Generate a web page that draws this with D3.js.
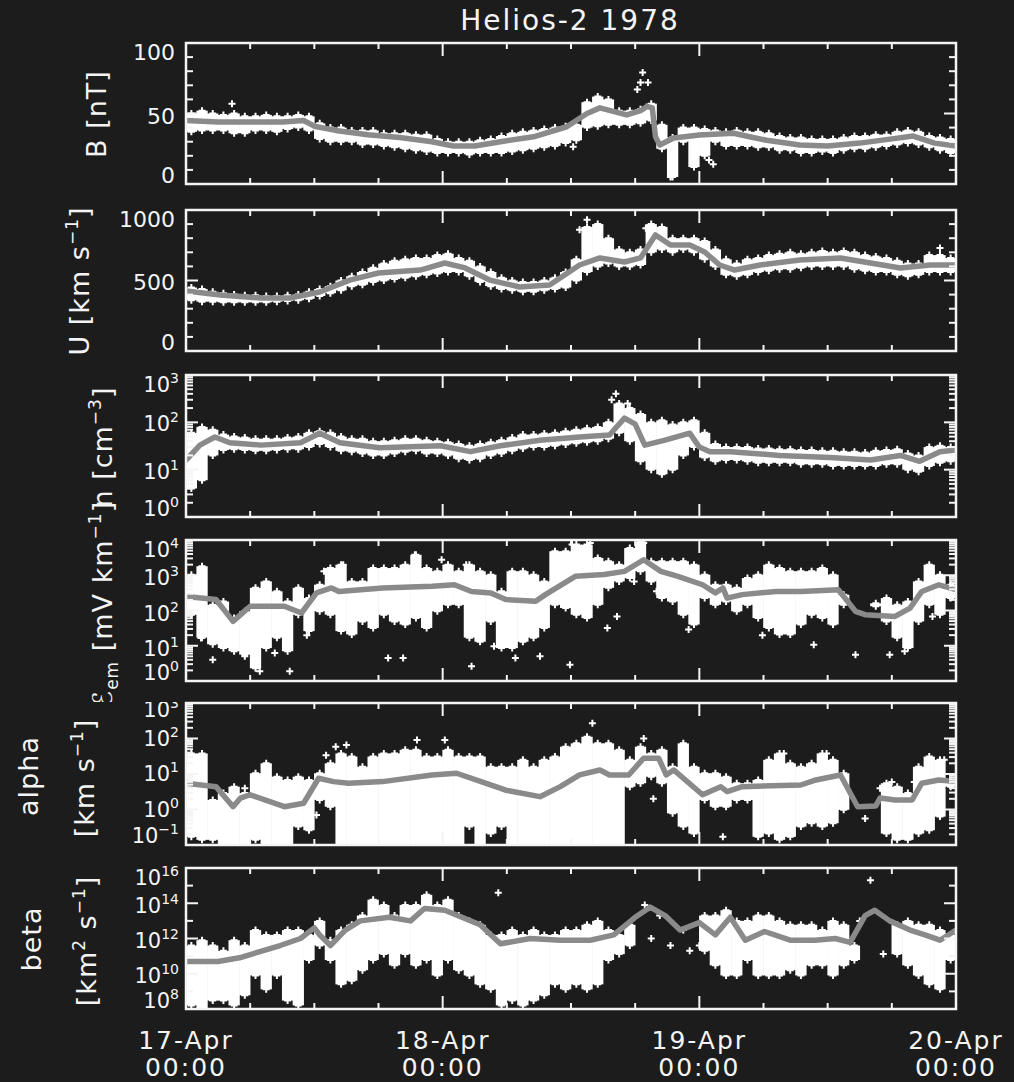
<!DOCTYPE html>
<html><head><meta charset="utf-8">
<script src="https://cdn.jsdelivr.net/npm/d3@7"></script>
<style>body{margin:0;background:#1c1c1c;} svg{display:block;} text{font-family:"DejaVu Sans",sans-serif;fill:#f4f4f4;}</style>
</head><body><svg id="c" width="1014" height="1082"></svg>
<script>
// ---------------- DATA (time in hours since 17-Apr 00:00) ----------------
const title = "Helios-2 1978";
const dayTicks = [0, 24, 48, 72];
const dayLabels = ["17-Apr", "18-Apr", "19-Apr", "20-Apr"];
const timeLabels = ["00:00", "00:00", "00:00", "00:00"];

// B [nT]
const bLine = [[0,45],[3,44],[6,44],[9,44],[11,45],[12,41],[14,38],[17,35],[20,33],[23,30],[25,27],[27,27],[29.4,30],[32.5,33.5],[35.6,40.6],[37.5,50],[38.7,54],[41.2,49],[42.5,52],[43.1,55],[43.6,54],[43.9,33.5],[44.3,27.7],[45.6,32.6],[48,34.8],[51.2,36],[52.7,33.5],[54.3,31],[57.4,27.7],[60,27],[63,29],[66,32],[68,34],[70,29],[72,27]];
const bHi = [50,52,50,49,50,48,48,49,48,48,49,48,43,40,40,38,38,38,36,36,36,35,35,32,30,30,30,31,32,34,36,37,38,39,40,41,42,58,62,60,52,52,53,57,42,33,40,40,39,38,37,38,37,37,36,34,33,33,32,32,32,33,34,34,35,35,37,38,37,34,33,32];
const bLo = [37,38,38,38,36,36,38,38,37,39,40,38,32,30,30,30,28,28,27,26,25,24,23,22,22,22,21,22,22,22,23,24,25,26,27,29,31,40,41,42,42,42,43,45,25,5,30,12,20,30,27,27,27,26,26,24,24,22,22,23,22,24,25,25,26,27,28,29,28,26,24,22];
const bOut = [[4.3,57],[42.2,67],[42.5,72],[42.7,79],[43.2,72],[45.3,5],[48.9,17],[49.3,14],[36.2,26.5]];
const bTicks = [100, 50, 0];

// U [km/s]
const uLine = [[0,425],[3.2,397],[7,376],[9.7,376],[12.5,418],[15.3,503],[18,553],[21.9,574],[24.2,624],[26.1,589],[28.4,503],[31.2,454],[34,468],[36.8,610],[38.7,660],[41,631],[42.5,660],[43.9,823],[45.3,752],[47.1,752],[48.5,702],[49.9,610],[51.3,574],[53.7,610],[57.4,645],[61.2,660],[64,624],[66.8,589],[69.6,610],[72,610]];
const uHi = [450,440,420,410,400,395,395,390,390,395,400,420,440,460,500,530,560,590,620,640,650,660,660,680,690,660,640,600,560,520,500,490,490,500,520,560,650,880,900,800,720,700,720,900,880,800,800,800,780,720,650,620,650,660,680,690,700,690,700,710,700,710,700,680,670,660,640,620,620,680,680,660];
const uLo = [360,350,350,345,345,345,345,345,350,355,360,370,390,410,430,460,470,490,500,510,520,530,540,550,560,560,530,490,460,440,430,420,420,430,440,450,500,560,600,620,600,600,610,700,720,700,720,700,650,600,540,530,540,560,570,580,580,590,600,600,600,600,580,570,560,560,540,530,540,560,560,560];
const uOut = [[37.5,930],[36.8,860],[43,870],[70.5,730]];
const uTicks = [1000, 500, 0];

// n [cm^-3]
const nLine = [[0,16],[1.3,33],[2.7,49],[4.1,37],[7,33],[10.7,37],[12.5,59],[14.4,37],[18.1,29],[23.8,32],[26.6,24],[29.4,32],[33.1,42],[36.8,49],[39.6,54],[41,123],[42,92],[42.9,33],[44.8,42],[47.1,59],[48,30],[49,24],[50.9,24],[55.5,20],[60.2,18],[64,16],[66.8,20],[68.6,15],[70.5,24],[72,26]];
const nHi = [60,80,70,55,50,48,45,45,45,48,50,60,65,60,50,45,45,40,40,42,45,45,42,40,38,35,32,35,38,42,48,55,55,58,60,65,70,75,80,100,250,200,150,100,110,90,100,110,60,35,30,30,30,28,28,27,27,26,26,25,25,24,24,23,25,26,27,22,20,30,32,30];
const nLo = [4,6,20,26,27,26,25,25,26,27,27,30,35,30,25,24,22,20,20,22,24,25,22,22,20,17,16,17,20,22,25,28,30,30,32,34,36,38,40,45,60,40,15,10,8,10,20,30,18,15,16,16,15,14,14,14,14,13,13,13,12,12,12,12,12,13,13,10,9,12,14,15];
const nOut = [[40.2,400],[39.8,300],[41.3,250],[40.6,180]];
const nTicks = [3, 2, 1, 0];

// E_em [mV/km]
const eLine = [[0,250],[2.8,205],[4.4,49],[6,132],[9.2,132],[10.8,85],[12.2,316],[13.6,437],[14.3,347],[18.4,437],[23,490],[25.1,537],[26.7,347],[28.5,316],[29.9,204],[32.7,182],[33.6,282],[36.4,933],[39.1,1047],[41,1290],[42.8,2750],[44.4,1290],[46,933],[48.3,537],[49.5,316],[50.2,437],[50.6,224],[52,282],[55.2,347],[57.5,347],[61,389],[62.6,95],[63.5,76],[66.3,68],[67.7,117],[68.8,347],[70.4,537],[72,389]];
const eHi = [1040,1800,145,180,61,95,440,670,350,180,440,225,540,1600,2000,670,670,1600,1600,1600,2000,3800,1600,1300,2000,1300,2000,1300,1040,350,1300,1300,1040,670,4800,4800,7400,7400,3100,2500,2000,5900,9100,2500,2500,2500,2500,2000,1040,540,540,440,830,1040,2000,1600,1300,1300,1300,1600,1040,280,null,null,160,225,145,180,670,2000,1040,540];
const eLo = [76,17,11,8.6,7,5.6,2.3,8.6,17,7,76,26,95,76,26,21,49,32,76,49,40,61,32,95,145,145,17,13,49,8.6,8.6,13,17,32,145,118,76,61,145,440,670,830,1300,670,225,180,76,40,225,145,180,95,145,61,32,21,21,40,76,61,40,145,null,null,132,49,17,8.6,49,145,76,225];
const eOut = [[1.4,16.6],[2.5,4],[5.5,5],[6.9,1.9],[9.7,1.9],[8.3,6.2],[11.3,20],[12.9,1290],[13.8,1290],[14.7,2000],[18.9,4.5],[20.3,4.5],[21.4,3800],[23.9,2750],[26.2,2000],[26.7,2.6],[28.8,9.6],[30.8,4.5],[33.1,5],[35.9,2.9],[36.1,7400],[37.8,8200],[39.4,32],[40.3,68],[41.9,670],[44,350],[42.8,8200],[47,29],[53.9,20],[58.7,10.7],[62.6,5.6],[65.8,5.6],[67.2,7],[69.5,2000],[69.8,68]];
const eTicks = [4, 3, 2, 1, 0];

// alpha [km/s]
const aLine = [[0,5.5],[2.8,4.4],[4.4,1.2],[5.1,2.1],[6,2.6],[9.2,1.2],[11,1.5],[12.4,7.6],[13.8,6.1],[15.2,5.5],[18.4,6.1],[23,9.4],[25.3,10.5],[27.6,6.1],[29.9,3.5],[33.1,2.3],[35,4.4],[36.8,9.4],[38.7,13],[39.6,9.4],[41.4,9.4],[42.8,28],[44.2,28],[44.9,9.4],[45.6,13],[48.3,2.6],[50,4.4],[50.6,3.2],[52,4.4],[57.5,4.9],[58.9,6.8],[61.2,9.4],[62.8,1.2],[64.5,1.26],[64.9,2.1],[66.3,1.86],[67.9,1.86],[68.8,5.5],[70.4,6.8],[72,6.1]];
const aHi = [38,38,1.86,2.9,4.4,2.9,10.5,20,8.4,6.8,8.4,6.8,10.5,20,38,31,16,31,38,38,48,48,31,31,48,31,31,31,16,16,16,25,16,25,31,59,73,112,73,73,48,25,59,38,48,16,73,16,10.5,10.5,8.4,5.5,5.5,6.8,25,38,20,16,20,38,25,10.5,null,null,null,5.5,4.4,2.9,16,31,25,6.8];
const aLo = [0.17,0.14,0.14,0.1,0.1,0.1,0.14,0.1,0.1,0.1,0.33,0.26,1.86,1.2,0.1,0.1,0.1,0.1,0.1,0.1,0.1,0.1,0.1,0.1,0.1,0.1,0.33,0.1,0.21,0.33,0.1,0.1,0.1,0.1,0.1,0.1,0.1,0.1,0.1,0.1,0.1,4.4,5.5,8.4,5.5,0.78,0.33,0.21,1.86,1.2,1.2,1.86,1.86,0.17,0.21,0.14,0.17,0.33,0.41,0.33,0.41,0.98,null,null,null,0.21,0.14,0.14,0.21,0.26,0.63,4.4];
const aOut = [[38,270],[21.6,91],[24.2,91],[15,66],[14,59],[13.1,34],[42.8,100],[46.5,73],[43.7,2],[50.2,0.17],[55.9,38],[59.9,38],[63.5,0.56],[64.9,4],[66,6],[68.1,6],[70.9,25],[11,0.7],[12.2,0.7],[11.5,0.33],[7.6,16],[5.5,4]];
const aTicks = [3, 2, 1, 0, -1];

// beta [km^2/s]
const betaLine = [[0,5e10],[3,5e10],[5,8e10],[8.8,4e11],[10.7,1e12],[12,4e12],[12.5,1.6e12],[13.5,4e11],[14.9,3e12],[16.3,1e13],[19,1.6e13],[21,1e13],[22.3,5e13],[24.2,4e13],[27.5,6e12],[29.4,5e11],[32.2,1e12],[35,8e11],[37.8,8e11],[40,1.6e12],[42,1.6e13],[43.4,6e13],[44.8,2e13],[46.2,3e12],[48,8e12],[49.5,1.6e12],[50.9,1.6e13],[52.3,8e11],[54.1,2.5e12],[56.5,8e11],[58.8,8e11],[60.7,1e12],[62.1,6e11],[63.5,2e13],[64.4,4e13],[65.8,1e13],[67.7,3e12],[69.1,1.6e12],[70.5,8e11],[72,3e12]];
const betaHi = [4e11,8e11,4e11,2e11,8e11,4e11,3e12,1.6e12,1.6e12,3e12,3e12,1.6e12,1e13,8e11,3e12,6e12,2e13,1.6e14,8e13,2e13,8e13,8e13,3e14,8e13,1.6e14,2e13,1e13,6e12,1.6e12,1.6e12,3e12,1.6e12,3e12,1.6e12,1.6e12,3e12,3e12,6e12,1e13,3e12,1.6e12,6e12,null,null,null,null,null,null,2e13,2e13,4e13,1e13,1e13,2e13,2e13,1e13,6e12,6e12,6e12,3e12,1e13,6e12,4e11,null,null,null,6e12,1e13,6e12,6e12,3e12,1.6e12];
const betaLo = [1.6e8,1.1e8,3e8,3e8,1.6e8,6e8,8e9,1.3e9,8e9,3e8,1.6e8,6e10,4e11,6e10,2.5e9,4e9,1.6e10,6e10,1.3e11,3e10,1.3e11,3e10,6e10,8e9,6e10,1.6e10,8e9,2.5e9,1.3e9,1.6e8,3e8,1.6e8,3e8,6e8,2.5e9,1.3e9,2.5e9,1.3e9,2.5e9,6e10,1.3e11,4e11,null,null,null,null,null,null,2e11,3e10,8e9,8e9,6e10,8e9,8e9,8e9,1.6e10,8e9,3e10,3e10,8e9,3e10,6e10,null,null,null,1.3e11,3e10,8e9,2.5e9,1.3e9,6e10];
const betaOut = [[29.2,4e14],[42.9,8e13],[44.3,2e13],[45.3,4e11],[47.1,2e11],[48,4e11],[64,2e15],[63,1e13],[65.2,1.3e11],[43.5,1e12],[46.5,3e12]];
const betaTicks = [16, 14, 12, 10, 8];

// ---------------- LAYOUT ----------------
const W = 1014, H = 1082, L = 186, R = 956;
const svg = d3.select('#c');
svg.append('rect').attr('width', W).attr('height', H).attr('fill', '#1c1c1c');
const defs = svg.append('defs');
const x = d3.scaleLinear().domain([0, 72]).range([L, R]);
const bins = d3.range(72);
const FG = '#f4f4f4';

const panels = [
  {top:43, bottom:184, log:false, domain:[0,100], ticks:bTicks, minor:d3.range(0,101,10), line:bLine, hi:bHi, lo:bLo, out:bOut, mid:2},
  {top:210, bottom:351, log:false, domain:[0,1000], ticks:uTicks, minor:d3.range(0,1001,100), line:uLine, hi:uHi, lo:uLo, out:uOut, mid:1},
  {top:375, bottom:517, log:true, domain:[1,1e3], ticks:nTicks, line:nLine, hi:nHi, lo:nLo, out:nOut, mid:1.5},
  {top:540, bottom:681, log:true, domain:[1,1e4], ticks:eTicks, line:eLine, hi:eHi, lo:eLo, out:eOut, mid:2.5},
  {top:703, bottom:845, log:true, domain:[0.1,1e3], ticks:aTicks, line:aLine, hi:aHi, lo:aLo, out:aOut, mid:-0.5, topOff:6, botOff:-10},
  {top:868, bottom:1009, log:true, domain:[1e8,1e16], ticks:betaTicks, decadeMinor:true, line:betaLine, hi:betaHi, lo:betaLo, out:betaOut, mid:2}
];

// clip for the panel-4 / panel-5 seam
defs.append('clipPath').attr('id','above').append('rect').attr('x',0).attr('y',0).attr('width',W).attr('height',702);
defs.append('clipPath').attr('id','below').append('rect').attr('x',0).attr('y',702).attr('width',W).attr('height',H-702);

panels.forEach((p, i) => {
  const y = (p.log ? d3.scaleLog() : d3.scaleLinear()).domain(p.domain).range([p.bottom, p.top]);
  const g = svg.append('g');
  const cid = 'clip' + i;
  defs.append('clipPath').attr('id', cid).append('rect')
    .attr('x', L).attr('y', p.top).attr('width', R - L).attr('height', p.bottom - p.top);
  const plot = g.append('g').attr('clip-path', `url(#${cid})`);

  // scatter envelope (min/max per hour)
  plot.selectAll('rect.env').data(bins.filter(b => p.hi[b] != null)).join('rect')
    .attr('x', b => x(b) - 0.3).attr('width', b => x(b + 1) - x(b) + 0.6)
    .attr('y', b => y(p.hi[b])).attr('height', b => Math.max(1, y(p.lo[b]) - y(p.hi[b])))
    .attr('fill', '#ffffff');

  // plus markers
  let d = '';
  const addPlus = (t, v) => { const px = x(t), py = y(v); d += `M${px - 3.5},${py}h7M${px},${py - 3.5}v7`; };
  bins.forEach(b => { if (p.hi[b] == null) return; addPlus(b + 0.5, p.hi[b]); addPlus(b + 0.5, p.lo[b]); });
  p.out.forEach(([t, v]) => addPlus(t, v));
  plot.append('path').attr('d', d).attr('stroke', '#ffffff').attr('stroke-width', 2).attr('fill', 'none');

  // smoothed line
  plot.append('path').datum(p.line)
    .attr('d', d3.line().x(q => x(q[0])).y(q => y(q[1])))
    .attr('fill', 'none').attr('stroke', '#8a8a8a').attr('stroke-width', 5.5)
    .attr('stroke-linejoin', 'round').attr('stroke-linecap', 'round');

  // frame
  g.append('rect').attr('x', L).attr('y', p.top).attr('width', R - L).attr('height', p.bottom - p.top)
    .attr('fill', 'none').attr('stroke', FG).attr('stroke-width', 2.5);

  // x ticks (top and bottom, inward)
  const tk = g.append('g').attr('stroke', FG).attr('stroke-width', 2);
  d3.range(0, 73, 6).forEach(t => {
    const len = (t % 24 === 0) ? 13 : 6;
    tk.append('line').attr('x1', x(t)).attr('x2', x(t)).attr('y1', p.bottom).attr('y2', p.bottom - len);
    tk.append('line').attr('x1', x(t)).attr('x2', x(t)).attr('y1', p.top).attr('y2', p.top + len);
  });

  // y ticks
  let majorVals, minorVals;
  if (!p.log) {
    majorVals = p.ticks;
    minorVals = p.minor.filter(v => !majorVals.includes(v));
  } else if (p.decadeMinor) {
    majorVals = p.ticks.map(e => Math.pow(10, e));
    minorVals = [];
    for (let e = p.ticks[p.ticks.length - 1]; e < p.ticks[0]; e++) if (!p.ticks.includes(e)) minorVals.push(Math.pow(10, e));
  } else {
    majorVals = p.ticks.map(e => Math.pow(10, e));
    minorVals = [];
    for (let e = p.ticks[p.ticks.length - 1]; e < p.ticks[0]; e++)
      for (let m = 2; m <= 9; m++) minorVals.push(m * Math.pow(10, e));
  }
  majorVals.forEach(v => {
    tk.append('line').attr('x1', L).attr('x2', L + 12).attr('y1', y(v)).attr('y2', y(v));
    tk.append('line').attr('x1', R).attr('x2', R - 12).attr('y1', y(v)).attr('y2', y(v));
  });
  minorVals.forEach(v => {
    tk.append('line').attr('x1', L).attr('x2', L + 7).attr('y1', y(v)).attr('y2', y(v));
    tk.append('line').attr('x1', R).attr('x2', R - 7).attr('y1', y(v)).attr('y2', y(v));
  });

  // y tick labels
  const lab = g.append('g');
  if (i === 4) lab.attr('clip-path', 'url(#below)');
  p.ticks.forEach((tv, k) => {
    const v = p.log ? Math.pow(10, tv) : tv;
    const off = k === 0 ? (p.topOff ?? 9) : (k === p.ticks.length - 1 ? (p.botOff ?? -9) : p.mid);
    if (!p.log) {
      lab.append('text').attr('x', 175).attr('y', y(v) + off + 8).attr('text-anchor', 'end')
        .attr('font-size', 22).text(String(tv));
    } else {
      const t = lab.append('text').attr('x', 179).attr('y', y(v) + off + 7.5).attr('text-anchor', 'end').attr('font-size', 21);
      t.append('tspan').text('10');
      t.append('tspan').attr('font-size', 14).attr('dy', -9).text(String(tv).replace('-', '\u2212'));
    }
  });
});

// axis titles (rotated)
function vtitle(parent, cx, cy, parts) {
  const t = parent.append('text').attr('transform', `translate(${cx},${cy}) rotate(-90)`)
    .attr('text-anchor', 'middle').attr('font-size', 27).attr('letter-spacing', 1);
  parts.forEach(pt => {
    const s = t.append('tspan').text(pt.t);
    if (pt.sup) s.attr('font-size', 17).attr('dy', -11);
    if (pt.sub) s.attr('font-size', 17).attr('dy', 6);
    if (pt.back) s.attr('dy', pt.back);
  });
  return t;
}
vtitle(svg, 106, 114, [{t:'B [nT]'}]);
vtitle(svg, 89, 281, [{t:'U [km s'}, {t:'\u22121', sup:true}, {t:']', back:11}]);
vtitle(svg, 112, 447, [{t:'n [cm'}, {t:'\u22123', sup:true}, {t:']', back:11}]);
const eg = svg.append('g').attr('clip-path', 'url(#above)');
vtitle(eg, 112, 604, [{t:'\u2130'}, {t:'em', sub:true}, {t:' [mV km', back:-6}, {t:'\u22121', sup:true}, {t:']', back:11}]);
vtitle(svg, 38, 776, [{t:'alpha'}]);
vtitle(svg, 94, 778, [{t:'[km s'}, {t:'\u22121', sup:true}, {t:']', back:11}]);
vtitle(svg, 41, 939, [{t:'beta'}]);
vtitle(svg, 96, 941, [{t:'[km'}, {t:'2', sup:true}, {t:' s', back:11}, {t:'\u22121', sup:true}, {t:']', back:11}]);

// title
svg.append('text').attr('x', 570).attr('y', 30).attr('text-anchor', 'middle')
  .attr('font-size', 28).attr('letter-spacing', 2).text(title);

// x-axis date labels
dayTicks.forEach((t, k) => {
  svg.append('text').attr('x', x(t)).attr('y', 1049).attr('text-anchor', 'middle')
    .attr('font-size', 25).attr('letter-spacing', 2).text(dayLabels[k]);
  svg.append('text').attr('x', x(t)).attr('y', 1076).attr('text-anchor', 'middle')
    .attr('font-size', 25).attr('letter-spacing', 2).text(timeLabels[k]);
});
</script></body></html>
